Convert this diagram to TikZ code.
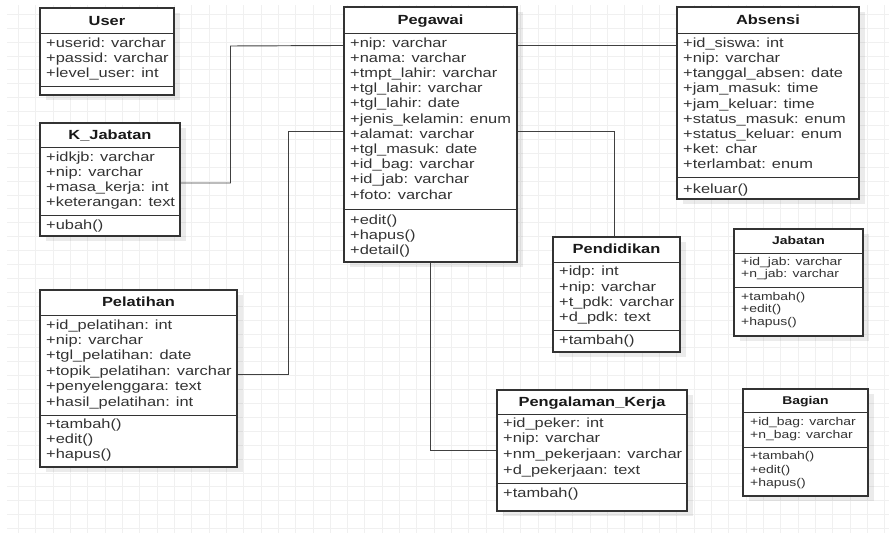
\documentclass[tikz,border=0pt]{standalone}
\usepackage{fontspec}
\setmainfont{Liberation Sans}[FakeStretch=1.24]
\usetikzlibrary{calc,fit,shadows}

\newcommand{\rowfont}{\fontsize{11.3}{13}\selectfont}
\newcommand{\smallrowfont}{\fontsize{9.6}{11}\selectfont}

\tikzset{
  classbox/.style={draw=black!80, line width=0.9pt, fill=white, inner sep=0pt,
    drop shadow={shadow xshift=0.17cm, shadow yshift=-0.15cm, fill=black, opacity=0.08}},
  sepline/.style={draw=black!80, line width=0.8pt},
  head/.style={font=\rowfont\bfseries, anchor=base, inner sep=0pt, text=black!90},
  smallhead/.style={font=\smallrowfont\bfseries, anchor=base, inner sep=0pt, text=black!90},
  row/.style={font=\rowfont, anchor=base west, inner sep=0pt, text=black!80},
  smallrow/.style={font=\smallrowfont, anchor=base west, inner sep=0pt, text=black!80},
  assoc/.style={draw=black!75, line width=0.8pt},
  gridline/.style={draw=black!6, line width=0.7pt}
}

\begin{document}
\begin{tikzpicture}[x=0.03cm,y=-0.03cm]
\useasboundingbox (0,0) rectangle (889,533);
% background grid
\begin{scope}
\clip (7,5) rectangle (889,533);
\foreach \k in {0,...,50} \draw[gridline] ({18.3+17.33*\k},5) -- ({18.3+17.33*\k},533);
\foreach \k in {1,...,38} \draw[gridline] (7,{0.4+13.9*\k}) -- (889,{0.4+13.9*\k});
\end{scope}

% User
\node[classbox, fit={(40,8) (174,95)}] (user) {};
\node[head] (user-h) at (user.north |- 0,25) {User};
\draw[sepline] (user.west |- 0,33) -- (user.east |- 0,33);
\draw[sepline] (user.west |- 0,86) -- (user.east |- 0,86);
\foreach \t [count=\i] in {+userid: varchar, +passid: varchar, +level\_user: int}
  \node[row] (user-a\i) at (46,{47+15.2*(\i-1)}) {\t};

% K_Jabatan
\node[classbox, fit={(40,123) (180,236)}] (kjab) {};
\node[head] (kjab-h) at (kjab.north |- 0,139.5) {K\_Jabatan};
\draw[sepline] (kjab.west |- 0,147) -- (kjab.east |- 0,147);
\draw[sepline] (kjab.west |- 0,215.5) -- (kjab.east |- 0,215.5);
\foreach \t [count=\i] in {+idkjb: varchar, +nip: varchar, +masa\_kerja: int, +keterangan: text}
  \node[row] (kjab-a\i) at (46,{161+15.3*(\i-1)}) {\t};
\node[row] (kjab-m1) at (46,229) {+ubah()};

% Pegawai
\node[classbox, fit={(344,7) (517,262)}] (pegawai) {};
\node[head] (pegawai-h) at (pegawai.north |- 0,24.5) {Pegawai};
\draw[sepline] (pegawai.west |- 0,33) -- (pegawai.east |- 0,33);
\draw[sepline] (pegawai.west |- 0,209) -- (pegawai.east |- 0,209);
\foreach \t [count=\i] in {+nip: varchar, +nama: varchar, +tmpt\_lahir: varchar, +tgl\_lahir: varchar,
  +tgl\_lahir: date, +jenis\_kelamin: enum, +alamat: varchar, +tgl\_masuk: date,
  +id\_bag: varchar, +id\_jab: varchar, +foto: varchar}
  \node[row] (pegawai-a\i) at (350,{47.3+15.17*(\i-1)}) {\t};
\foreach \t [count=\i] in {+edit(), +hapus(), +detail()}
  \node[row] (pegawai-m\i) at (350,{224+15.3*(\i-1)}) {\t};

% Absensi
\node[classbox, fit={(677,7) (859,199)}] (absensi) {};
\node[head] (absensi-h) at (absensi.north |- 0,24.5) {Absensi};
\draw[sepline] (absensi.west |- 0,33) -- (absensi.east |- 0,33);
\draw[sepline] (absensi.west |- 0,177) -- (absensi.east |- 0,177);
\foreach \t [count=\i] in {+id\_siswa: int, +nip: varchar, +tanggal\_absen: date, +jam\_masuk: time,
  +jam\_keluar: time, +status\_masuk: enum, +status\_keluar: enum, +ket: char, +terlambat: enum}
  \node[row] (absensi-a\i) at (683,{47.3+15.2*(\i-1)}) {\t};
\node[row] (absensi-m1) at (683,193) {+keluar()};

% Pelatihan
\node[classbox, fit={(40,290) (237,467)}] (pelatihan) {};
\node[head] (pelatihan-h) at (pelatihan.north |- 0,306.8) {Pelatihan};
\draw[sepline] (pelatihan.west |- 0,315) -- (pelatihan.east |- 0,315);
\draw[sepline] (pelatihan.west |- 0,415) -- (pelatihan.east |- 0,415);
\foreach \t [count=\i] in {+id\_pelatihan: int, +nip: varchar, +tgl\_pelatihan: date,
  +topik\_pelatihan: varchar, +penyelenggara: text, +hasil\_pelatihan: int}
  \node[row] (pelatihan-a\i) at (46,{329+15.4*(\i-1)}) {\t};
\foreach \t [count=\i] in {+tambah(), +edit(), +hapus()}
  \node[row] (pelatihan-m\i) at (46,{428+15.2*(\i-1)}) {\t};

% Pendidikan
\node[classbox, fit={(553,237) (680,352)}] (pendidikan) {};
\node[head] (pendidikan-h) at (pendidikan.north |- 0,253.8) {Pendidikan};
\draw[sepline] (pendidikan.west |- 0,262) -- (pendidikan.east |- 0,262);
\draw[sepline] (pendidikan.west |- 0,330) -- (pendidikan.east |- 0,330);
\foreach \t [count=\i] in {+idp: int, +nip: varchar, +t\_pdk: varchar, +d\_pdk: text}
  \node[row] (pendidikan-a\i) at (559,{275.7+15.3*(\i-1)}) {\t};
\node[row] (pendidikan-m1) at (559,344.7) {+tambah()};

% Jabatan
\node[classbox, fit={(734,229) (863,336)}] (jabatan) {};
\node[smallhead] (jabatan-h) at (jabatan.north |- 0,244.2) {Jabatan};
\draw[sepline] (jabatan.west |- 0,253) -- (jabatan.east |- 0,253);
\draw[sepline] (jabatan.west |- 0,287) -- (jabatan.east |- 0,287);
\foreach \t [count=\i] in {+id\_jab: varchar, +n\_jab: varchar}
  \node[smallrow] (jabatan-a\i) at (741,{265.5+12*(\i-1)}) {\t};
\foreach \t [count=\i] in {+tambah(), +edit(), +hapus()}
  \node[smallrow] (jabatan-m\i) at (741,{300+12.5*(\i-1)}) {\t};

% Bagian
\node[classbox, fit={(743,389) (868,496)}] (bagian) {};
\node[smallhead] (bagian-h) at (bagian.north |- 0,404.7) {Bagian};
\draw[sepline] (bagian.west |- 0,412) -- (bagian.east |- 0,412);
\draw[sepline] (bagian.west |- 0,447) -- (bagian.east |- 0,447);
\foreach \t [count=\i] in {+id\_bag: varchar, +n\_bag: varchar}
  \node[smallrow] (bagian-a\i) at (750,{425+13.3*(\i-1)}) {\t};
\foreach \t [count=\i] in {+tambah(), +edit(), +hapus()}
  \node[smallrow] (bagian-m\i) at (750,{459.5+13.5*(\i-1)}) {\t};

% Pengalaman_Kerja
\node[classbox, fit={(497,390) (687,511)}] (pengalaman) {};
\node[head] (pengalaman-h) at (pengalaman.north |- 0,406.5) {Pengalaman\_Kerja};
\draw[sepline] (pengalaman.west |- 0,414) -- (pengalaman.east |- 0,414);
\draw[sepline] (pengalaman.west |- 0,483) -- (pengalaman.east |- 0,483);
\foreach \t [count=\i] in {+id\_peker: int, +nip: varchar, +nm\_pekerjaan: varchar, +d\_pekerjaan: text}
  \node[row] (pengalaman-a\i) at (503,{427.3+15.6*(\i-1)}) {\t};
\node[row] (pengalaman-m1) at (503,497.3) {+tambah()};

% associations
\draw[assoc] ($(kjab.east)+(0,3.5)$) -| (230.5,46) -- ($(pegawai.north west)+(0,39)$);
\draw[assoc] ($(pelatihan.east)+(0,-4.5)$) -| (288,131) -- ($(pegawai.west)+(0,-3.5)$);
\draw[assoc] ($(pegawai.north east)+(0,38.5)$) -- ($(absensi.north west)+(0,38.5)$);
\draw[assoc] ($(pegawai.east)+(0,-3.5)$) -| ($(pendidikan.north)+(-2,0)$);
\draw[assoc] (pegawai.south) |- (pengalaman.west);

\end{tikzpicture}
\end{document}
